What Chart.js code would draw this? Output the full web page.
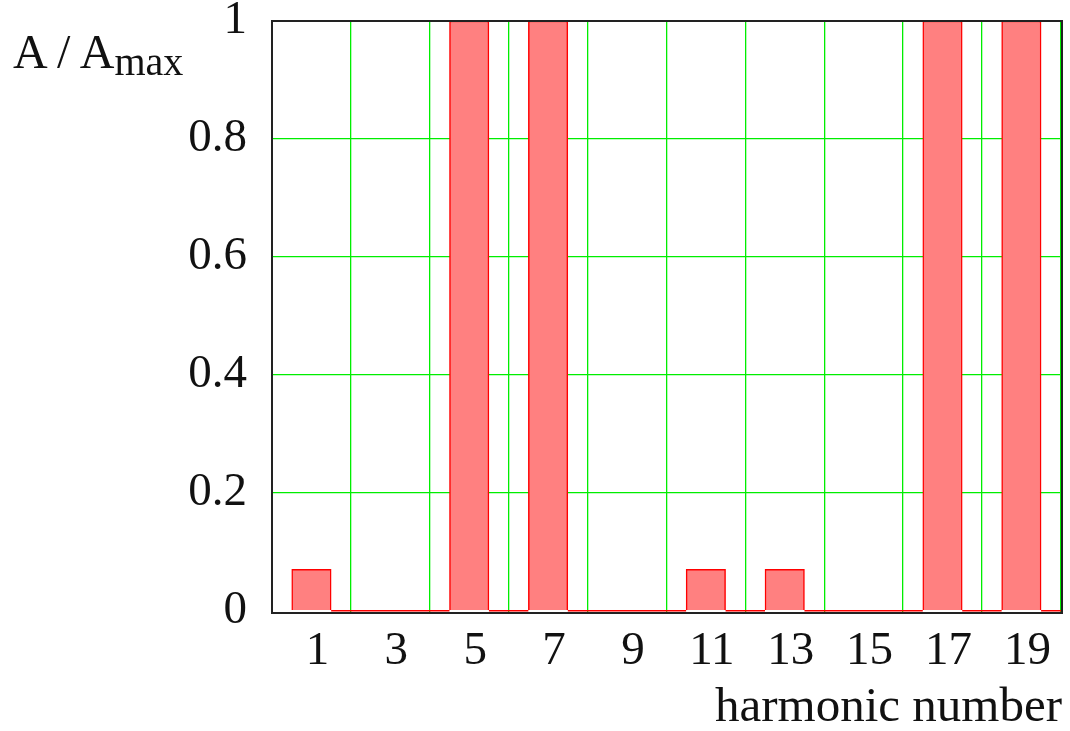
<!DOCTYPE html>
<html>
<head>
<meta charset="utf-8">
<script src="https://cdn.jsdelivr.net/npm/chart.js@4/dist/chart.umd.min.js"></script>
<style>
  html, body { margin: 0; padding: 0; background: #ffffff; }
  #wrap { position: relative; width: 1070px; height: 731px; overflow: hidden; }
  canvas { position: absolute; left: 0; top: 0; }
  .ttl { position: absolute; font-family: "Liberation Serif", "DejaVu Serif", serif; color: #111; line-height: 1; white-space: nowrap; }
  #ytitle { left: 13px; top: 28px; font-size: 48px; }
  #ytitle .sub { font-size: 40px; position: relative; top: 7px; }
  #xtitle { right: 8px; top: 680px; font-size: 49px; }
</style>
</head>
<body>
<div id="wrap">
  <canvas id="c" width="1070" height="731"></canvas>
  <div class="ttl" id="ytitle">A / A<span class="sub">max</span></div>
  <div class="ttl" id="xtitle">harmonic number</div>
</div>
<script>
// ---- data ----
const harmonics  = [1, 2, 3, 4, 5, 6, 7, 8, 9, 10, 11, 12, 13, 14, 15, 16, 17, 18, 19, 20];
const amplitudes = [0.07, 0, 0, 0, 1, 0, 1, 0, 0, 0, 0.07, 0, 0.07, 0, 0, 0, 1, 0, 1, 0];
const xTickValues = [1, 3, 5, 7, 9, 11, 13, 15, 17, 19];
const xTickLabels = ['1', '3', '5', '7', '9', '11', '13', '15', '17', '19'];
const xGridValues = [2, 4, 6, 8, 10, 12, 14, 16, 18, 20];
const yTickValues = [0, 0.2, 0.4, 0.6, 0.8, 1];
const yTickLabels = ['0', '0.2', '0.4', '0.6', '0.8', '1'];

// ---- styles ----
const GREEN = '#00ee00';
const RED = '#ff0000';
const PINK = '#ff8080';
const NONE = 'rgba(0,0,0,0)';
const FONT = { family: '"Liberation Serif", "DejaVu Serif", serif', size: 47 };

// bars
const barData = harmonics.map((h, i) => ({ x: h, y: amplitudes[i] }));
// zero-level outline between bars
const zeroLine = [];
harmonics.forEach((h, i) => {
  if (amplitudes[i] === 0) {
    zeroLine.push({ x: h - 0.5, y: 0 }, { x: h + 0.5, y: 0 });
  } else {
    zeroLine.push({ x: h, y: null });
  }
});

const frame = {
  id: 'frame',
  afterDraw(chart) {
    const { ctx, chartArea: a } = chart;
    ctx.save();
    ctx.strokeStyle = '#222';
    ctx.lineWidth = 2;
    ctx.strokeRect(a.left, a.top, a.right - a.left, a.bottom - a.top);
    ctx.restore();
  }
};

new Chart(document.getElementById('c'), {
  data: {
    datasets: [
      {
        type: 'bar',
        data: barData,
        backgroundColor: PINK,
        borderColor: RED,
        borderWidth: 1.5,
        borderSkipped: 'start',
        barPercentage: 1,
        categoryPercentage: 1,
        order: 2
      },
      {
        type: 'line',
        data: zeroLine,
        borderColor: RED,
        borderWidth: 1.5,
        pointRadius: 0,
        spanGaps: false,
        fill: false,
        order: 1
      }
    ]
  },
  options: {
    responsive: false,
    devicePixelRatio: 1,
    animation: false,
    layout: { padding: { top: 21, right: 8, bottom: 0, left: 0 } },
    plugins: { legend: { display: false }, tooltip: { enabled: false } },
    scales: {
      x: {
        type: 'linear',
        offset: false,
        min: 0,
        max: 20.03,
        border: { display: false },
        grid: {
          offset: false,
          drawTicks: false,
          lineWidth: 1.3,
          color: (c) => (c && c.tick && xGridValues.includes(c.tick.value)) ? GREEN : NONE
        },
        afterBuildTicks: (s) => {
          const vals = [...xTickValues, ...xGridValues].sort((a, b) => a - b);
          s.ticks = vals.map(v => ({ value: v }));
        },
        afterFit: (s) => { s.height = 118; s.paddingLeft = 0; s.paddingRight = 0; },
        ticks: {
          autoSkip: false,
          maxRotation: 0,
          minRotation: 0,
          padding: 10,
          labelOffset: 6,
          color: '#111',
          font: FONT,
          callback: (v) => {
            const k = xTickValues.indexOf(v);
            return k >= 0 ? xTickLabels[k] : '';
          }
        }
      },
      y: {
        type: 'linear',
        min: -0.004,
        max: 1,
        border: { display: false },
        grid: {
          drawTicks: false,
          lineWidth: 1.3,
          color: (c) => (c && c.tick && c.tick.value > 0 && c.tick.value < 1) ? GREEN : NONE
        },
        afterBuildTicks: (s) => { s.ticks = yTickValues.map(v => ({ value: v })); },
        afterFit: (s) => { s.width = 272; s.paddingTop = 0; s.paddingBottom = 0; },
        ticks: {
          padding: 25,
          color: '#111',
          font: FONT,
          callback: (v) => {
            const k = yTickValues.indexOf(v);
            return k >= 0 ? yTickLabels[k] : '';
          }
        }
      }
    }
  },
  plugins: [frame]
});
</script>
</body>
</html>
